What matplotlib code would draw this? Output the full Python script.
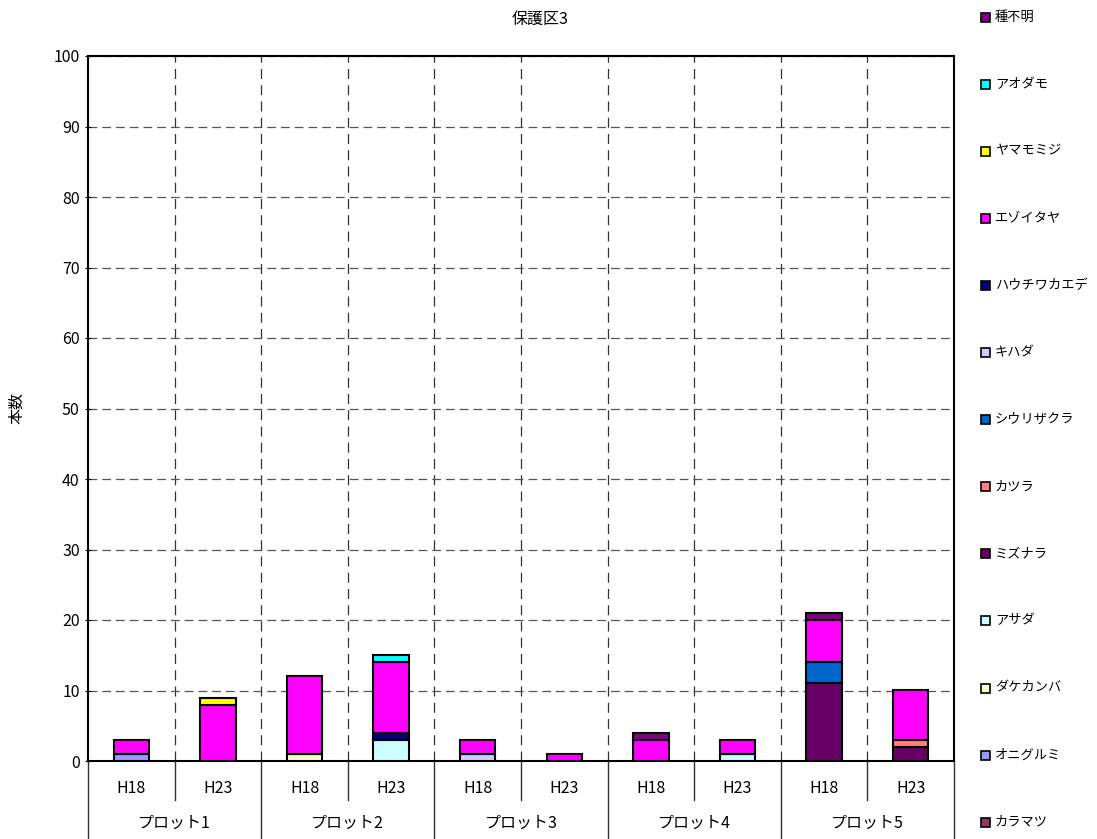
import numpy as np
import matplotlib
matplotlib.use("Agg")
from matplotlib import pyplot as plt
from matplotlib.patches import Rectangle

plt.rcParams['font.family'] = ['Noto Sans CJK JP', 'DejaVu Sans']

# bars: (plot, year)
plots = ["プロット1", "プロット2", "プロット3", "プロット4", "プロット5"]
years = ["H18", "H23"]

# species, bottom of stack first
species = ["カラマツ", "オニグルミ", "ダケカンバ", "アサダ", "ミズナラ", "カツラ",
           "シウリザクラ", "キハダ", "ハウチワカエデ", "エゾイタヤ", "ヤマモミジ",
           "アオダモ", "種不明"]
colors = ["#993366", "#9999FF", "#FFFFCC", "#CCFFFF", "#660066", "#FF8080",
          "#0066CC", "#CCCCFF", "#000080", "#FF00FF", "#FFFF00",
          "#00FFFF", "#800080"]

# counts per bar: P1H18, P1H23, P2H18, P2H23, P3H18, P3H23, P4H18, P4H23, P5H18, P5H23
karamatsu    = [0, 0, 0, 0, 0, 0, 0, 0, 0, 0]
onigurumi    = [1, 0, 0, 0, 0, 0, 0, 0, 0, 0]
dakekanba    = [0, 0, 1, 0, 0, 0, 0, 0, 0, 0]
asada        = [0, 0, 0, 3, 0, 0, 0, 1, 0, 0]
mizunara     = [0, 0, 0, 0, 0, 0, 0, 0, 11, 2]
katsura      = [0, 0, 0, 0, 0, 0, 0, 0, 0, 1]
shiurizakura = [0, 0, 0, 0, 0, 0, 0, 0, 3, 0]
kihada       = [0, 0, 0, 0, 1, 0, 0, 0, 0, 0]
hauchiwa     = [0, 0, 0, 1, 0, 0, 0, 0, 0, 0]
ezoitaya     = [2, 8, 11, 10, 2, 1, 3, 2, 6, 7]
yamamomiji   = [0, 1, 0, 0, 0, 0, 0, 0, 0, 0]
aodamo       = [0, 0, 0, 1, 0, 0, 0, 0, 0, 0]
fumei        = [0, 0, 0, 0, 0, 0, 1, 0, 1, 0]

series = [karamatsu, onigurumi, dakekanba, asada, mizunara, katsura,
          shiurizakura, kihada, hauchiwa, ezoitaya, yamamomiji, aodamo, fumei]

W, H = 1097, 839
fig = plt.figure(figsize=(W / 100, H / 100), dpi=100)
ax = fig.add_axes([88 / W, 1 - 761 / H, (954 - 88) / W, (761 - 56) / H])

n = len(plots) * len(years)
x = np.arange(n)
bottom = np.zeros(n)
for vals, col in zip(series, colors):
    v = np.array(vals, dtype=float)
    idx = v > 0
    if idx.any():
        ax.bar(x[idx], v[idx], bottom=bottom[idx], width=0.41, color=col,
               edgecolor="black", linewidth=1.5, zorder=3)
    bottom += v

ax.set_xlim(-0.5, n - 0.5)
ax.set_ylim(0, 100)
ax.set_yticks(np.arange(0, 101, 10))
ax.set_xticks([])
ax.tick_params(axis="y", labelsize=11.5, direction="inout", length=5)
ax.yaxis.grid(True, linestyle=(0, (7, 4)), color="#555555", linewidth=0.9)
for b in np.arange(0.5, n - 0.5, 1):
    ax.axvline(b, linestyle=(0, (8, 5)), color="#333333", linewidth=0.9, zorder=1)
for s in ax.spines.values():
    s.set_linewidth(1.5)

# category axis labels
trans = ax.get_xaxis_transform()
for i in range(n):
    ax.text(i, -0.039, years[i % 2], transform=trans, ha="center", va="center",
            fontsize=11.5)
for g, name in enumerate(plots):
    ax.text(2 * g + 0.5, -0.089, name, transform=trans, ha="center", va="center",
            fontsize=11.5)
for b in np.arange(-0.5, n, 1):
    long_line = (round(b + 0.5) % 2 == 0)
    y_end = -0.11 if long_line else -0.056
    ax.plot([b, b], [0, y_end], transform=trans, color="#333333",
            linewidth=1.0, clip_on=False)

ax.set_ylabel("本数", fontsize=11.5, labelpad=20)
fig.text(540 / W, 1 - 19 / H, "保護区3", ha="center", va="center", fontsize=11.5)

# legend at right
for i, (name, col) in enumerate(zip(species[::-1], colors[::-1])):
    yc = 17 + i * 67.1
    fig.patches.append(Rectangle((981 / W, 1 - (yc + 4.5) / H), 9 / W, 9 / H,
                                 transform=fig.transFigure, facecolor=col,
                                 edgecolor="black", linewidth=1.2))
    fig.text(995 / W, 1 - yc / H, name, ha="left", va="center", fontsize=9.5)

fig.savefig("out.png", dpi=100)
